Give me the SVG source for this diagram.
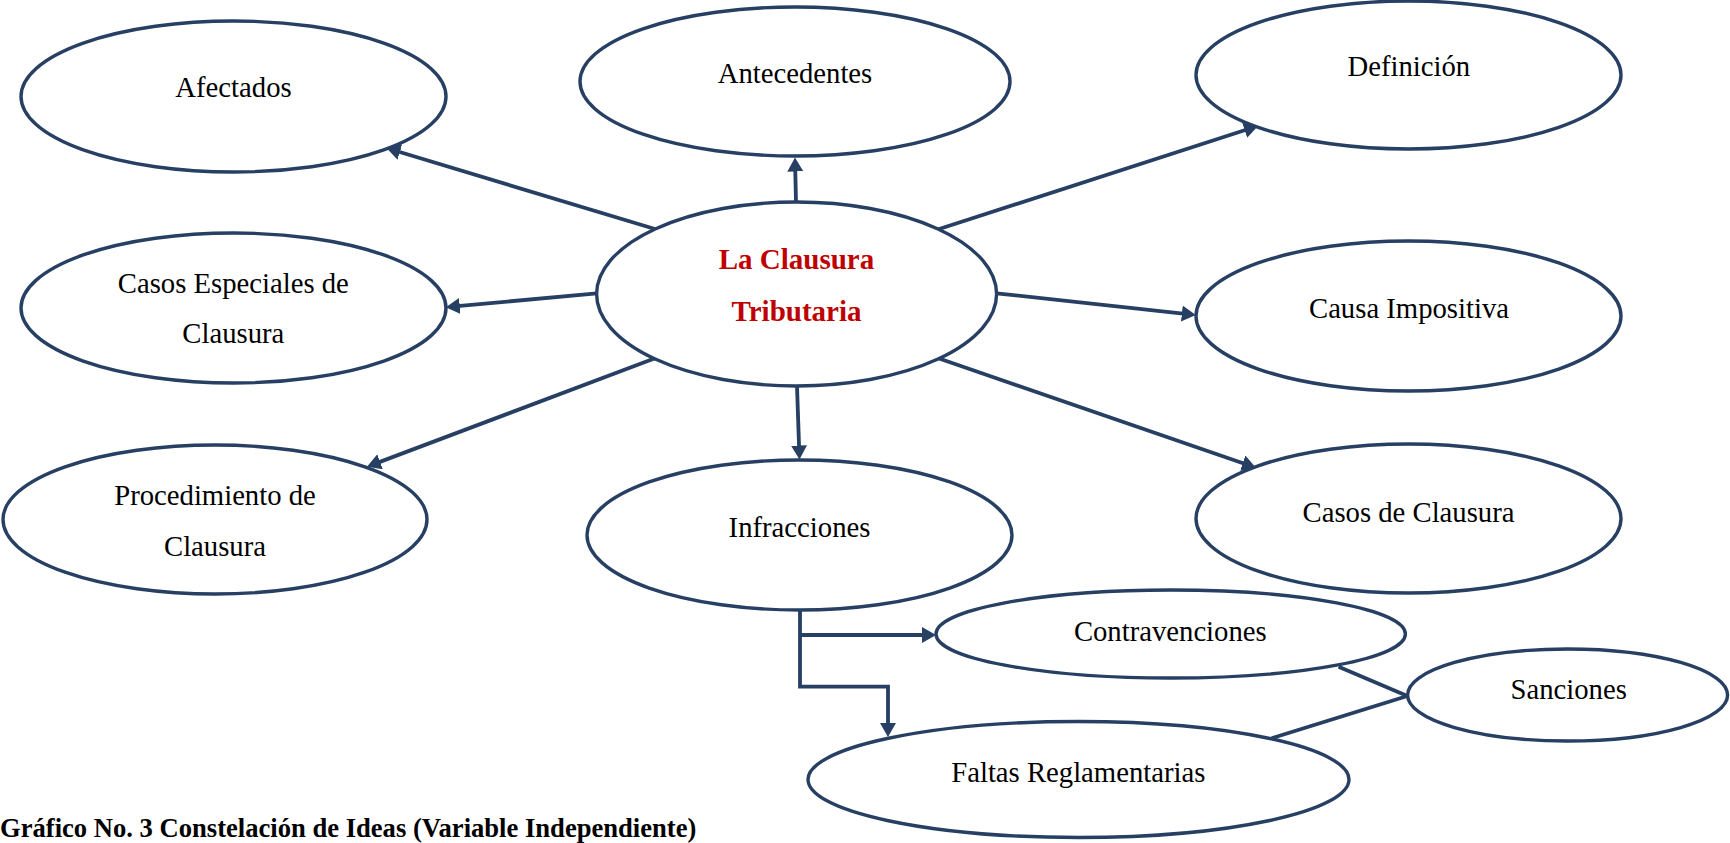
<svg xmlns="http://www.w3.org/2000/svg" width="1730" height="843" viewBox="0 0 1730 843">
<style>
  .node ellipse { fill: #ffffff; stroke: #263f63; stroke-width: 3.4; }
  .node text { font-family: "Liberation Serif", "Times New Roman", serif; font-size: 28.7px; fill: #000000; text-anchor: middle; }
  .node text.main { font-weight: bold; fill: #c00000; font-size: 29px; }
  .conn line, .conn polyline { stroke: #263f63; stroke-width: 3.8; fill: none; }
  .caption { font-family: "Liberation Serif", "Times New Roman", serif; font-size: 26.6px; font-weight: bold; fill: #000000; }
</style>
<defs>
  <marker id="arrow" viewBox="0 0 14 16" markerWidth="14" markerHeight="16" refX="8" refY="8" orient="auto" markerUnits="userSpaceOnUse">
    <path d="M0,0 L14,8 L0,16 z" fill="#263f63"/>
  </marker>
</defs>
<rect x="0" y="0" width="1730" height="843" fill="#ffffff"/>
<g id="connectors" class="conn">
  <line x1="655" y1="229" x2="392.2" y2="149.7" marker-end="url(#arrow)"/>
  <line x1="796" y1="202" x2="795.1" y2="163.5" marker-end="url(#arrow)"/>
  <line x1="938.4" y1="229.3" x2="1252.3" y2="127.8" marker-end="url(#arrow)"/>
  <line x1="596.7" y1="293.3" x2="451.8" y2="306.7" marker-end="url(#arrow)"/>
  <line x1="996.6" y1="293.3" x2="1189.8" y2="314.4" marker-end="url(#arrow)"/>
  <line x1="655" y1="358.3" x2="372.6" y2="464.6" marker-end="url(#arrow)"/>
  <line x1="797" y1="386" x2="799.3" y2="453.5" marker-end="url(#arrow)"/>
  <line x1="938.4" y1="358.3" x2="1250.3" y2="465.7" marker-end="url(#arrow)"/>
  <polyline points="800,610 800,686.7 888,686.7 888,731" marker-end="url(#arrow)"/>
  <line x1="800" y1="635" x2="930" y2="635" marker-end="url(#arrow)"/>
  <line x1="1338.6" y1="666.7" x2="1407.4" y2="696"/>
  <line x1="1271.6" y1="738.3" x2="1407.4" y2="696"/>
</g>
<g id="node-afectados" class="node">
  <ellipse cx="233.5" cy="96.5" rx="212.5" ry="75.5"/>
  <text x="233.5" y="97.3">Afectados</text>
</g>
<g id="node-antecedentes" class="node">
  <ellipse cx="795" cy="81.5" rx="215" ry="74.5"/>
  <text x="795" y="83.3">Antecedentes</text>
</g>
<g id="node-definicion" class="node">
  <ellipse cx="1408.5" cy="75" rx="212.5" ry="74"/>
  <text x="1408.8" y="76">Definición</text>
</g>
<g id="node-casos-especiales" class="node">
  <ellipse cx="233.5" cy="308" rx="212.5" ry="75"/>
  <text x="233.3" y="293.3">Casos Especiales de</text>
  <text x="233.3" y="343.3">Clausura</text>
</g>
<g id="node-center" class="node">
  <ellipse cx="796.6" cy="294" rx="200" ry="92"/>
  <text class="main" x="796.5" y="269.3">La Clausura</text>
  <text class="main" x="796.5" y="320.7">Tributaria</text>
</g>
<g id="node-causa" class="node">
  <ellipse cx="1408.5" cy="316" rx="212.5" ry="75"/>
  <text x="1409" y="318.3">Causa Impositiva</text>
</g>
<g id="node-procedimiento" class="node">
  <ellipse cx="215" cy="519.5" rx="212" ry="74.5"/>
  <text x="215" y="505">Procedimiento de</text>
  <text x="215" y="555.7">Clausura</text>
</g>
<g id="node-infracciones" class="node">
  <ellipse cx="799.5" cy="535" rx="212.5" ry="75"/>
  <text x="799.5" y="536.7">Infracciones</text>
</g>
<g id="node-casos-clausura" class="node">
  <ellipse cx="1408.5" cy="518.5" rx="212.5" ry="74.5"/>
  <text x="1408.5" y="521.7">Casos de Clausura</text>
</g>
<g id="node-contravenciones" class="node">
  <ellipse cx="1170.7" cy="634" rx="234.7" ry="44"/>
  <text x="1170.3" y="640.7">Contravenciones</text>
</g>
<g id="node-sanciones" class="node">
  <ellipse cx="1567.6" cy="695" rx="160" ry="46"/>
  <text x="1568.7" y="699.3">Sanciones</text>
</g>
<g id="node-faltas" class="node">
  <ellipse cx="1078.5" cy="779.5" rx="270.5" ry="58"/>
  <text x="1078.3" y="782.3">Faltas Reglamentarias</text>
</g>
<text class="caption" x="0" y="837">Gráfico No. 3 Constelación de Ideas (Variable Independiente)</text>
</svg>
